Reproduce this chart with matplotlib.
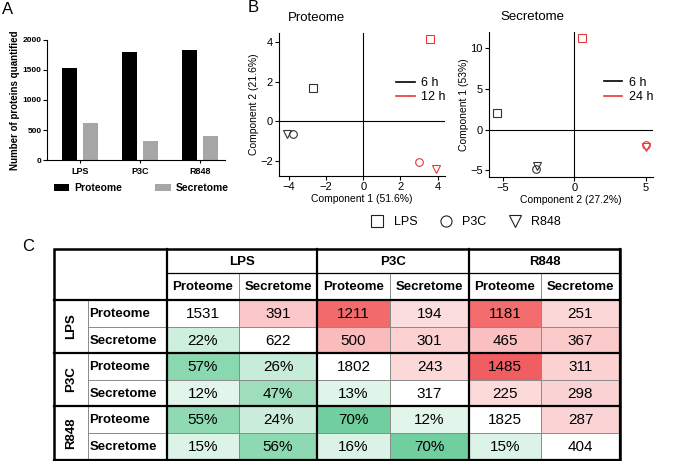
import matplotlib
matplotlib.use("Agg")
import matplotlib.pyplot as plt
from matplotlib.lines import Line2D
from matplotlib.patches import Rectangle
from matplotlib.colors import LinearSegmentedColormap, Normalize
import numpy as np

plt.rcParams['font.family'] = ['Liberation Sans', 'DejaVu Sans']

# ---------------- data ----------------
stimuli = ["LPS", "P3C", "R848"]
proteome_counts = [1531, 1802, 1825]
secretome_counts = [622, 317, 404]

# PCA proteome (6 h black, 12 h red)
prot_6h_x = [-2.7, -3.8, -4.1]
prot_6h_y = [1.65, -0.65, -0.65]
prot_12h_x = [3.6, 3.0, 3.9]
prot_12h_y = [4.15, -2.05, -2.4]
# PCA secretome (6 h black, 24 h red)
sec_6h_x = [-5.4, -2.7, -2.6]
sec_6h_y = [2.0, -4.8, -4.45]
sec_24h_x = [0.5, 5.0, 5.0]
sec_24h_y = [11.3, -1.85, -2.1]
markers = ["s", "o", "v"]

# Overlap table
row_groups = ["LPS", "P3C", "R848"]
sub_labels = ["Proteome", "Secretome"]
overlap = [
    [1531, 391, 1211, 194, 1181, 251],
    [22, 622, 500, 301, 465, 367],
    [57, 26, 1802, 243, 1485, 311],
    [12, 47, 13, 317, 225, 298],
    [55, 24, 70, 12, 1825, 287],
    [15, 56, 16, 70, 15, 404],
]

W, H = 680, 461
fig = plt.figure(figsize=(W / 100, H / 100), dpi=100)

def fax(l, t, r, b):
    return fig.add_axes([l / W, 1 - b / H, (r - l) / W, (b - t) / H])

red_c = "#e8383a"

# ---------------- Panel A ----------------
axA = fax(47, 40, 225, 160)
x = np.arange(len(stimuli))
axA.bar(x - 0.18, proteome_counts, width=0.25, color="black", label="Proteome")
axA.bar(x + 0.18, secretome_counts, width=0.25, color="#a6a6a6", label="Secretome")
axA.set_xlim(-0.55, 2.42)
axA.set_ylim(0, 2000)
axA.set_yticks([0, 500, 1000, 1500, 2000])
axA.set_xticks(x)
axA.set_xticklabels(stimuli, fontsize=6.5, fontweight="bold")
axA.tick_params(axis="y", labelsize=6, length=3, width=0.8, pad=1)
axA.tick_params(axis="x", length=2, width=0.8, pad=3)
for lab in axA.get_yticklabels():
    lab.set_fontweight("bold")
axA.spines["top"].set_visible(False)
axA.spines["right"].set_visible(False)
axA.set_ylabel("Number of proteins quantified", fontsize=7, fontweight="bold", labelpad=2)
axA.legend(loc="center", bbox_to_anchor=(0.53, -0.233), ncol=2, frameon=False,
           prop={"weight": "bold", "size": 7.5}, handlelength=1.45, handleheight=0.6,
           columnspacing=3.2, handletextpad=0.5)

# ---------------- Panel B ----------------
def pca_axes(ax, xlim, ylim, xt, yt, xlabel, ylabel, title, tx, bx, by, rx, ry, later):
    ax.set_xlim(*xlim)
    ax.set_ylim(*ylim)
    ax.set_xticks(xt)
    ax.set_yticks(yt)
    ax.set_xticklabels([str(v).replace("-", "\u2212") for v in xt])
    ax.set_yticklabels([str(v).replace("-", "\u2212") for v in yt])
    ax.tick_params(labelsize=8, length=3, width=0.8, pad=1.5)
    ax.spines["top"].set_visible(False)
    ax.spines["right"].set_visible(False)
    ax.axhline(0, color="black", lw=0.8)
    ax.axvline(0, color="black", lw=0.8)
    for i, m in enumerate(markers):
        ax.plot(bx[i], by[i], marker=m, ms=5.5, mfc="none", mec="#333333", mew=0.8, ls="none")
        ax.plot(rx[i], ry[i], marker=m, ms=5.5, mfc="none", mec=red_c, mew=0.8, ls="none")
    ax.set_xlabel(xlabel, fontsize=7.5, labelpad=1)
    ax.set_ylabel(ylabel, fontsize=7.5, labelpad=1)
    ax.set_title(title, fontsize=9.5, loc="left", pad=9, x=tx)
    hs = [Line2D([], [], color="black", lw=1.2), Line2D([], [], color=red_c, lw=1.2)]
    ax.legend(hs, ["6 h", later], loc="center right", bbox_to_anchor=(1.07, 0.6),
              frameon=False, fontsize=9, handlelength=1.5, handletextpad=0.5,
              labelspacing=0.2, alignment="right")

axP = fax(279, 33, 445, 176)
pca_axes(axP, (-4.54, 4.4), (-2.77, 4.45), [-4, -2, 0, 2, 4], [-2, 0, 2, 4],
         "Component 1 (51.6%)", "Component 2 (21.6%)", "Proteome", 0.054,
         prot_6h_x, prot_6h_y, prot_12h_x, prot_12h_y, "12 h")
axS = fax(489, 32, 653, 177)
pca_axes(axS, (-5.98, 5.5), (-5.8, 12), [-5, 0, 5], [-5, 0, 5, 10],
         "Component 2 (27.2%)", "Component 1 (53%)", "Secretome", 0.067,
         sec_6h_x, sec_6h_y, sec_24h_x, sec_24h_y, "24 h")

mh = [Line2D([], [], marker=m, ms=8, mfc="none", mec="#222222", mew=0.8, ls="none") for m in markers]
fig.legend(mh, stimuli, loc="center", bbox_to_anchor=(463 / W, 1 - 222 / H), ncol=3,
           frameon=False, fontsize=9, handletextpad=0.3, columnspacing=1.3)

# ---------------- Panel C (table) ----------------
axT = fig.add_axes([0, 0, 1, 1])
axT.set_xlim(0, W)
axT.set_ylim(H, 0)
axT.axis("off")
axT.patch.set_visible(False)

col_edges = [54, 88, 167, 239, 317, 390, 469, 541, 620]
row_edges = [249, 273, 300, 327, 353, 380, 406, 433, 460]

red_cmap = LinearSegmentedColormap.from_list(
    "r", [(0.0, "#ffffff"), (0.819, "#f36a6c"), (1.0, "#f05d60")])
green_cmap = LinearSegmentedColormap.from_list("g", ["#ffffff", "#64cb96"])
rnorm = Normalize(vmin=-100, vmax=1500)
gnorm = Normalize(vmin=-3, vmax=77)

n = len(overlap)
for i in range(n):
    for j in range(n):
        v = overlap[i][j]
        x0, x1 = col_edges[j + 2], col_edges[j + 3]
        y0, y1 = row_edges[i + 2], row_edges[i + 3]
        if j > i:
            fc = red_cmap(rnorm(v)); txt = str(v)
        elif j < i:
            fc = green_cmap(gnorm(v)); txt = f"{v}%"
        else:
            fc = "white"; txt = str(v)
        axT.add_patch(Rectangle((x0, y0), x1 - x0, y1 - y0, facecolor=fc, edgecolor="none"))
        axT.text((x0 + x1) / 2, (y0 + y1) / 2 + 0.5, txt, ha="center", va="center", fontsize=11)

thin = dict(color="#8a8a8a", lw=0.7)
thick = dict(color="black", lw=1.6)
for k in range(n):
    if k % 2 == 1:
        axT.plot([col_edges[k + 2]] * 2, [row_edges[1], row_edges[-1]], **thin)
        axT.plot([col_edges[1], col_edges[-1]], [row_edges[k + 2]] * 2, **thin)
axT.plot([col_edges[1]] * 2, [row_edges[2], row_edges[-1]], **thin)
axT.plot([col_edges[2], col_edges[-1]], [row_edges[1]] * 2, color="black", lw=0.9)
for k in range(0, n + 1, 2):
    axT.plot([col_edges[k + 2]] * 2, [row_edges[0], row_edges[-1]], **thick)
    axT.plot([col_edges[0], col_edges[-1]], [row_edges[k + 2]] * 2, **thick)
axT.add_patch(Rectangle((col_edges[0], row_edges[0]), col_edges[-1] - col_edges[0],
                        row_edges[-1] - row_edges[0], fill=False, edgecolor="black", lw=1.8))

for g, name in enumerate(stimuli):
    xa, xb = col_edges[2 + 2 * g], col_edges[4 + 2 * g]
    axT.text((xa + xb) / 2, (row_edges[0] + row_edges[1]) / 2 + 0.5, name, ha="center",
             va="center", fontsize=9.5, fontweight="bold")
    for s, sl in enumerate(sub_labels):
        xa2, xb2 = col_edges[2 + 2 * g + s], col_edges[3 + 2 * g + s]
        axT.text((xa2 + xb2) / 2, (row_edges[1] + row_edges[2]) / 2 + 0.5, sl, ha="center",
                 va="center", fontsize=9.5, fontweight="bold")
for g, name in enumerate(row_groups):
    ya, yb = row_edges[2 + 2 * g], row_edges[4 + 2 * g]
    axT.text((col_edges[0] + col_edges[1]) / 2, (ya + yb) / 2, name, ha="center", va="center",
             rotation=90, fontsize=9.5, fontweight="bold")
    for s, sl in enumerate(sub_labels):
        ya2, yb2 = row_edges[2 + 2 * g + s], row_edges[3 + 2 * g + s]
        axT.text(col_edges[1] + 1.5, (ya2 + yb2) / 2 + 0.5, sl, ha="left", va="center",
                 fontsize=9.5, fontweight="bold")

axT.text(2, 9, "A", fontsize=12, va="center", ha="left")
axT.text(248, 8, "B", fontsize=12, va="center", ha="left")
axT.text(22, 246, "C", fontsize=12, va="center", ha="left")

fig.savefig("out.png", dpi=100)
